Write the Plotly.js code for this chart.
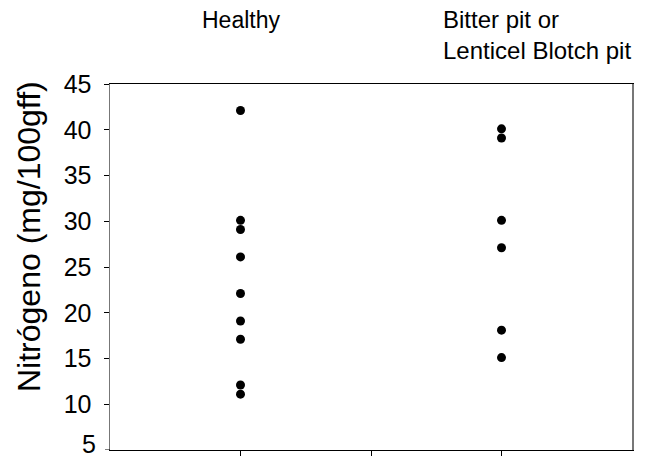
<!DOCTYPE html>
<html>
<head>
<meta charset="utf-8">
<script src="https://cdn.plot.ly/plotly-3.0.1.min.js"></script>
<style>body{margin:0;padding:0;background:#fff}#chart{width:652px;height:460px}</style>
</head>
<body>
<div id="chart"></div>
<script>
// Group positions on the x axis (range 0..4, ticks at 1,2,3)
const groupNames = ["Healthy", "Bitter pit or<br>Lenticel Blotch pit"];
const groupX = [1, 3];
const healthyValues = [42.1, 30.1, 29.1, 26.1, 22.1, 19.1, 17.1, 12.1, 11.1];
const bitterPitValues = [40.1, 39.1, 30.1, 27.1, 18.1, 15.1];
const yTickValues = [5, 10, 15, 20, 25, 30, 35, 40, 45];
const yTitle = "Nitrógeno (mg/100gff)";

const font = "Arial, 'Liberation Sans', sans-serif";
const mk = {color: "#000", size: 9, line: {width: 0}};
const tickFontSize = 25;

const traces = [
  {x: healthyValues.map(() => groupX[0]), y: healthyValues, type: "scatter", mode: "markers", marker: mk, hoverinfo: "y", showlegend: false, cliponaxis: false},
  {x: bitterPitValues.map(() => groupX[1]), y: bitterPitValues, type: "scatter", mode: "markers", marker: mk, hoverinfo: "y", showlegend: false, cliponaxis: false}
];

// the bottom tick label sits on the lower edge of the figure; Plotly drops it, so draw it as text
const bottomTick = yTickValues[0];

const layout = {
  width: 652, height: 460,
  margin: {l: 110, r: 20, t: 84, b: 10},
  paper_bgcolor: "#fff", plot_bgcolor: "#fff",
  font: {family: font, color: "#000"},
  showlegend: false,
  xaxis: {
    range: [0, 4], tickvals: [1, 2, 3], showticklabels: false,
    ticks: "outside", ticklen: 5, tickcolor: "#000", tickwidth: 1,
    showline: true, mirror: true, linecolor: "#000", linewidth: 1,
    showgrid: false, zeroline: false, fixedrange: true
  },
  yaxis: {
    range: [bottomTick, 45], tickvals: yTickValues.slice(1),
    ticks: "outside", ticklen: 5, tickcolor: "#000", tickwidth: 1,
    ticklabelstandoff: 7,
    tickfont: {size: tickFontSize, family: font, color: "#000"},
    showline: true, mirror: true, linecolor: "#777", linewidth: 1.5,
    showgrid: false, zeroline: false, fixedrange: true
  },
  shapes: [
    {type: "line", xref: "paper", x0: -5 / 522, x1: 0, yref: "y", y0: bottomTick, y1: bottomTick, line: {color: "#000", width: 1}}
  ],
  annotations: [
    {text: String(bottomTick), x: 0, xref: "paper", xshift: -12, y: bottomTick, yref: "y", yshift: 6, xanchor: "right", yanchor: "middle", showarrow: false, font: {size: tickFontSize, family: font, color: "#000"}},
    {text: yTitle, textangle: -90, x: 0, xref: "paper", xshift: -81, y: 1 - (237 - 84) / 366, yref: "paper", xanchor: "center", yanchor: "middle", showarrow: false, font: {size: 32, family: font, color: "#000"}},
    {text: groupNames[0], x: groupX[0], xref: "x", y: 1 + 64 / 366, yref: "paper", xanchor: "center", yanchor: "middle", showarrow: false, font: {size: 23, family: font, color: "#000"}},
    {text: groupNames[1], x: 2.536, xref: "x", y: 1 + 49 / 366, yref: "paper", xanchor: "left", yanchor: "middle", align: "left", showarrow: false, font: {size: 24, family: font, color: "#000"}}
  ]
};

Plotly.newPlot("chart", traces, layout, {displayModeBar: false, staticPlot: true});
</script>
</body>
</html>
